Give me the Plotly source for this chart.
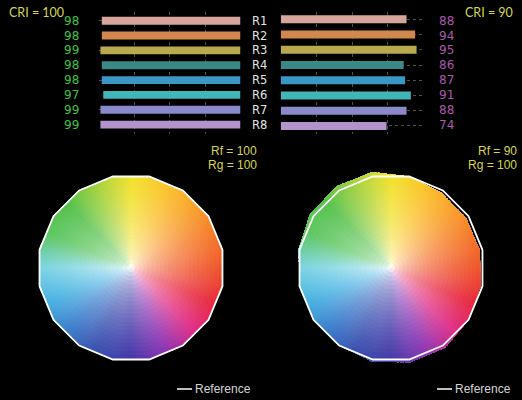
import numpy as np
import plotly.graph_objects as go

# ---- data ----
rows = ["R1", "R2", "R3", "R4", "R5", "R6", "R7", "R8"]
cri100_values = [98, 98, 99, 98, 98, 97, 99, 99]
cri90_values = [88, 94, 95, 86, 87, 91, 88, 74]
bar_colors = ["#d6a69c", "#d2874f", "#b9a94f", "#3a8987", "#3a97c6",
              "#41b6b6", "#8a8acb", "#b393cb"]

# 16 hue bins of the colour vector graphic (angle of each vertex, degrees)
hue_bin_angles = [11.25 + 22.5 * k for k in range(16)]
reference_radii = [1.0] * 16
test_radii_100 = [1.0] * 16
test_radii_90 = [0.97, 0.965, 0.97, 1.0, 1.045, 1.05, 1.04, 1.01,
                 0.995, 0.99, 1.0, 1.02, 1.03, 1.03, 1.0, 0.98]

# hue colours at 0, 22.5, ... 337.5 degrees (background of the wheel)
hue_colors = ["#ef552a", "#f57a2a", "#f9a12b", "#fbc42b", "#f2e22c",
              "#a6d33d", "#55c14b", "#5cc65f", "#7dd5e3", "#48b2e2",
              "#3a7ccb", "#3a4fb0", "#4238a8", "#8c33b3", "#df2c88",
              "#e8293d"]

BG = "black"
W, H = 522, 400


def hex_rgb(h):
    return [int(h[i:i + 2], 16) for i in (1, 3, 5)]


def edge_radius(theta, radii):
    a = np.radians(hue_bin_angles)
    px = np.array(radii) * np.cos(a)
    py = np.array(radii) * np.sin(a)
    k = int(((theta - 11.25) % 360) // 22.5)
    k2 = (k + 1) % 16
    ex, ey = px[k2] - px[k], py[k2] - py[k]
    t = np.radians(theta)
    dx, dy = np.cos(t), np.sin(t)
    return (px[k] * ey - py[k] * ex) / (dx * ey - dy * ex)


def wheel_traces(radii, subplot):
    # white disc underneath so the wedge tips don't show seams in the centre
    under = go.Barpolar(theta=[0], r=[0.5], width=[360],
                        marker=dict(color="white", line=dict(width=0)),
                        hoverinfo="skip", subplot=subplot)
    anchors = np.array([hex_rgb(c) for c in hue_colors + hue_colors[:1]], float)
    anchor_ang = [22.5 * i for i in range(17)]
    step, layers = 1.5, 22
    th, rr, bb, cc = [], [], [], []
    for i in range(0, layers):
        f = (i + 0.5) / layers
        t = f ** 0.5
        for theta in np.arange(step / 2, 360, step):
            col = np.array([np.interp(theta, anchor_ang, anchors[:, j]) for j in range(3)])
            re = edge_radius(theta, radii)
            c = 255 * (1 - t) + col * t
            th.append(theta)
            bb.append(re * i / layers)
            rr.append(re * (1 - i / layers))
            cc.append("rgb(%d,%d,%d)" % tuple(c))
    wedges = go.Barpolar(theta=th, r=rr, base=bb, width=step * 1.6,
                         marker=dict(color=cc, line=dict(width=0)),
                         hoverinfo="skip", subplot=subplot)
    return [under, wedges]


def outline_trace(radii, subplot):
    return go.Scatterpolar(theta=hue_bin_angles + hue_bin_angles[:1],
                           r=list(radii) + [radii[0]], mode="lines",
                           line=dict(color="white", width=1.8),
                           hoverinfo="skip", subplot=subplot)


fig = go.Figure()

# bar panels
fig.add_trace(go.Bar(x=cri100_values, y=rows, orientation="h", width=0.53,
                     marker=dict(color=bar_colors, line=dict(width=0)),
                     xaxis="x", yaxis="y"))
fig.add_trace(go.Bar(x=cri90_values, y=rows, orientation="h", width=0.53,
                     marker=dict(color=bar_colors, line=dict(width=0)),
                     xaxis="x2", yaxis="y2"))

# colour vector wheels
fig.add_traces(wheel_traces(test_radii_100, "polar"))
fig.add_trace(outline_trace(reference_radii, "polar"))
fig.add_traces(wheel_traces(test_radii_90, "polar2"))
fig.add_trace(outline_trace(reference_radii, "polar2"))

grid = dict(showgrid=True, gridcolor="#505050", griddash="dot", gridwidth=1,
            showticklabels=False, zeroline=False, showline=False, ticks="")
ydom = [(H - 133.6) / H, (H - 11.7) / H]

polar_common = dict(bgcolor=BG, bargap=0, hole=0,
                    radialaxis=dict(visible=False, range=[0, 1.1]),
                    angularaxis=dict(visible=False, rotation=0,
                                     direction="counterclockwise"))

annotations = []
for r, v1, v2 in zip(rows, cri100_values, cri90_values):
    annotations.append(dict(x=71.5 / W, xref="paper", y=r, yref="y", text=str(v1),
                            showarrow=False, xanchor="center",
                            font=dict(family="DejaVu Sans", size=12, color="#3fc43f")))
    annotations.append(dict(x=259.5 / W, xref="paper", y=r, yref="y", text=r,
                            showarrow=False, xanchor="center",
                            font=dict(family="DejaVu Sans", size=11.5, color="#e4e4e4")))
    annotations.append(dict(x=446 / W, xref="paper", y=r, yref="y", text=str(v2),
                            showarrow=False, xanchor="center",
                            font=dict(family="DejaVu Sans", size=12, color="#ad58ad")))

yellow = "#d6d64e"
labels = [
    ("CRI = 100", 8, 13, "left", "Lato", 12.5),
    ("CRI = 90", 464, 13, "left", "Lato", 12.5),
    ("Rf = 100", 258, 151, "right", "Liberation Sans", 12),
    ("Rg = 100", 258, 165, "right", "Liberation Sans", 12),
    ("Rf = 90", 518, 151, "right", "Liberation Sans", 12),
    ("Rg = 100", 518, 165, "right", "Liberation Sans", 12),
]
for txt, x, y, anchor, fam, size in labels:
    annotations.append(dict(x=x / W, y=(H - y) / H, xref="paper", yref="paper",
                            text=txt, showarrow=False, xanchor=anchor,
                            yanchor="middle", borderpad=0,
                            font=dict(family=fam, size=size, color=yellow)))

shapes = []
for x0 in (177, 437):
    shapes.append(dict(type="line", xref="paper", yref="paper",
                       x0=x0 / W, x1=(x0 + 15) / W, y0=(H - 389) / H, y1=(H - 389) / H,
                       line=dict(color="white", width=1.5)))
    annotations.append(dict(x=(x0 + 17) / W, y=(H - 389) / H, xref="paper", yref="paper",
                            text="Reference", showarrow=False, xanchor="left",
                            yanchor="middle", borderpad=0,
                            font=dict(family="Liberation Sans", size=12, color="#d4d4d4")))

fig.update_layout(
    width=W, height=H,
    margin=dict(l=0, r=0, t=0, b=0),
    paper_bgcolor=BG, plot_bgcolor=BG,
    showlegend=False,
    barmode="overlay",
    xaxis=dict(domain=[99 / W, 240.5 / W], range=[100, 0], tick0=0, dtick=25,
               anchor="y", **grid),
    yaxis=dict(domain=ydom, categoryorder="array", categoryarray=rows,
               autorange="reversed", anchor="x", **grid),
    xaxis2=dict(domain=[280.7 / W, 423.7 / W], range=[0, 100], tick0=0, dtick=25,
                anchor="y2", **grid),
    yaxis2=dict(domain=ydom, categoryorder="array", categoryarray=rows,
                autorange="reversed", anchor="x2", **grid),
    polar=dict(domain=dict(x=[28.4 / W, 233.6 / W], y=[29.4 / H, 234.6 / H]), **polar_common),
    polar2=dict(domain=dict(x=[288.4 / W, 493.6 / W], y=[29.4 / H, 234.6 / H]), **polar_common),
    annotations=annotations,
    shapes=shapes,
)

fig.write_html("out.html", config={"displayModeBar": False},
               post_script="document.body.style.margin='0';"
                           "document.body.style.background='black';")
